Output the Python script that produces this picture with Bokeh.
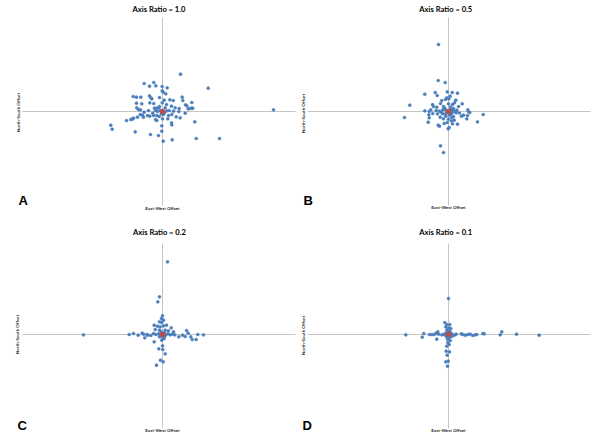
from bokeh.plotting import figure
from bokeh.models import Label, Range1d, FixedTicker
from bokeh.layouts import gridplot
from bokeh.embed import file_html
from bokeh.resources import INLINE

# ---------------- data ----------------
panel_titles = ["Axis Ratio = 1.0", "Axis Ratio = 0.5", "Axis Ratio = 0.2", "Axis Ratio = 0.1"]
panel_letters = ["A", "B", "C", "D"]
x_axis_title = "East-West Offset"
y_axis_title = "North-South Offset"

# offsets (east, north) of each shot
ratio_10_points = [
    (18.0, 37.3), (45.7, 23.3), (111.0, 1.7), (-18.3, 28.0), (-8.7, 29.0), (-6.7, 25.7), (-13.0, 25.3),
    (-0.3, 25.0), (-0.3, 20.7), (0.7, 19.3), (3.3, 17.7), (4.7, 23.7), (-29.3, 15.0), (-26.0, 14.3),
    (-21.7, 14.3), (-13.0, 15.7), (-11.7, 13.7), (-10.7, 12.7), (-3.0, 14.0), (1.7, 11.3), (7.3, 11.7),
    (10.7, 11.0), (19.7, 14.3), (20.3, 11.0), (29.3, 9.0), (23.0, 6.7), (24.3, 5.7), (25.7, 2.7),
    (27.0, 3.0), (29.0, 3.3), (30.3, 3.3), (-26.0, 8.3), (-20.7, 7.7), (-12.7, 8.7), (-8.7, 8.0),
    (-0.3, 8.7), (4.0, 7.0), (9.0, 5.3), (12.7, 3.7), (16.7, 3.0), (-25.7, 3.7), (-24.0, 2.0),
    (-22.0, 1.7), (-18.3, -0.7), (-14.0, 1.0), (-8.0, 3.3), (-5.7, 3.3), (-3.7, 3.7), (-7.0, 1.0),
    (-5.0, 0.0), (-2.3, 1.0), (4.3, 0.7), (6.7, 1.0), (11.0, 0.3), (16.3, 0.0), (22.7, -1.7),
    (-22.3, -3.0), (-20.0, -3.7), (-15.0, -4.0), (-12.7, -4.7), (-9.0, -4.0), (-5.7, -4.0), (-3.3, -5.0),
    (1.0, -3.0), (6.0, -4.0), (9.3, -3.0), (13.7, -5.3), (17.7, -6.3), (-36.0, -9.0), (-31.7, -8.0),
    (-30.3, -7.7), (-29.0, -6.7), (-25.0, -5.7), (-19.0, -5.7), (-7.0, -8.0), (-5.7, -9.0), (0.0, -7.3),
    (5.3, -7.3), (9.0, -11.3), (9.3, -13.3), (-0.7, -14.3), (32.3, -10.3), (-51.7, -13.7), (-50.3, -17.7),
    (-27.3, -20.3), (-12.0, -23.0), (-4.0, -24.0), (-0.7, -19.7), (9.7, -28.3), (33.7, -27.0),
    (57.0, -27.0), (0.7, -29.7), (-3.0, 5.0), (2.7, 3.7), (-1.3, -2.3), (2.0, -1.0), (-9.7, -1.7),
]
ratio_05_points = [
    (-10.0, 67.0), (-10.3, 31.0), (-3.3, 29.0), (-23.7, 17.3), (-13.3, 19.0), (-11.3, 16.0), (-1.3, 19.7),
    (3.7, 19.0), (9.0, 18.3), (1.7, 15.3), (-1.7, 13.7), (-6.7, 11.0), (-3.0, 12.0), (0.3, 12.7),
    (7.3, 11.3), (13.7, 7.7), (-38.7, 6.3), (-16.0, 7.0), (-15.0, 5.0), (-11.7, 4.3), (-5.0, 5.0),
    (0.0, 7.7), (4.0, 7.0), (6.0, 8.7), (10.0, 5.0), (-23.7, 0.7), (-19.3, 0.0), (-17.7, 1.7),
    (-12.3, 1.0), (-9.0, 0.3), (-5.7, 1.7), (-3.0, 2.0), (2.7, 2.7), (4.3, 1.3), (6.0, 0.0), (8.3, 1.3),
    (19.3, 1.7), (20.0, 0.0), (21.3, -1.0), (34.7, -3.0), (-44.0, -6.0), (-19.7, -3.3), (-15.7, -2.0),
    (-11.0, -2.3), (-5.7, -2.3), (-2.7, -4.7), (2.3, -3.0), (5.0, -5.0), (7.7, -1.3), (13.0, -4.7),
    (15.0, -3.7), (19.0, -4.0), (-19.3, -6.3), (-20.3, -10.7), (-8.3, -5.7), (-5.0, -7.3), (0.0, -7.7),
    (3.3, -6.3), (5.7, -8.7), (-10.3, -13.7), (-9.0, -14.7), (-4.3, -12.0), (-1.3, -11.0), (4.0, -12.3),
    (9.0, -12.7), (18.3, -7.3), (29.0, -10.3), (-0.3, -17.3), (0.7, -16.0), (-8.0, -34.3), (-5.0, -41.0),
    (-1.7, -1.0), (1.3, 0.7), (3.3, -1.7), (-2.7, -2.3), (1.0, -3.7), (-7.0, -1.0), (-4.0, 3.5),
    (2.0, 4.5), (5.0, 3.0), (-8.0, 8.0), (3.0, -9.5), (11.0, -1.5),
]
ratio_02_points = [
    (5.0, 72.7), (-3.0, 37.7), (-4.7, 32.7), (0.0, 18.7), (-1.0, 16.0), (-3.0, 12.7), (-0.7, 12.0),
    (1.0, 14.3), (-8.3, 9.3), (-5.0, 8.3), (-2.3, 7.7), (1.0, 8.7), (4.0, 9.3), (8.7, 6.7), (-7.3, 5.0),
    (-3.0, 4.3), (2.7, 4.3), (6.0, 3.7), (11.0, 2.7), (24.0, 4.0), (25.7, 1.3), (-79.0, -0.3),
    (-33.3, 0.0), (-29.0, 1.0), (-24.3, -0.7), (-20.3, 1.3), (-19.0, 0.3), (-15.7, 0.0), (-14.7, -0.7),
    (-11.7, -1.0), (-9.0, 1.0), (-6.7, 0.0), (-4.0, 0.7), (3.3, 0.0), (5.3, 0.7), (7.7, -0.3),
    (10.0, 0.3), (12.3, -0.3), (16.3, -2.3), (20.0, -0.7), (22.7, -2.0), (28.3, -2.3), (29.7, -5.0),
    (33.7, -5.0), (35.3, 0.0), (41.0, -0.3), (-17.7, -3.3), (-8.3, -7.3), (-0.7, -5.7), (1.7, -4.0),
    (-3.0, -2.3), (-3.7, -14.3), (0.0, -11.3), (0.3, -15.0), (2.7, -19.3), (-2.0, -25.7), (0.7, -27.3),
    (-6.0, -30.7), (-1.3, 2.7), (1.7, 1.7), (-2.3, -1.3), (2.3, -1.7), (0.3, -3.0),
]
ratio_01_points = [
    (0.0, 36.0), (-3.7, 12.0), (-1.7, 10.0), (1.3, 10.0), (-2.7, 7.7), (0.3, 6.7), (2.3, 6.0),
    (-1.7, 4.7), (1.3, 3.3), (-42.7, -0.3), (-26.3, -2.7), (-24.7, 1.0), (-19.0, 0.0), (-16.7, 0.0),
    (-14.3, 0.0), (-12.3, 1.3), (-10.7, 2.7), (-10.0, 0.3), (-11.7, -4.7), (-6.7, -0.3), (-4.3, 0.3),
    (-2.7, -1.0), (3.3, 0.3), (5.7, -0.7), (7.7, 0.3), (12.7, 0.7), (14.3, 0.0), (16.7, -0.7),
    (19.3, 0.0), (21.7, 0.3), (24.3, -1.0), (26.7, -0.3), (28.3, 0.0), (34.3, 1.0), (35.7, 0.7),
    (51.7, -0.3), (53.3, 2.7), (68.0, 0.3), (90.7, -0.7), (-1.7, -2.3), (0.7, -3.3), (-1.0, -4.7),
    (1.7, -6.0), (-0.7, -8.0), (0.7, -10.0), (-1.7, -11.7), (-2.3, -16.7), (1.0, -17.3), (-1.3, -20.7),
    (-2.7, -27.3), (-0.3, -26.7), (-1.0, -31.7), (0.0, 2.7), (2.3, 1.3), (-2.3, 1.7), (3.3, -2.0),
]
target_point = (0.0, 0.0)

# ---------------- layout / style ----------------
BLUE = "#4a7ebb"
RED = "#be4b48"
AXIS_GREY = "#c4c4c4"

panel_cfg = [
    dict(w=300, h=218, xr=(-162, 138), yr=(-107, 111), xb=(-140, 133), yb=(-94, 94),
         title=(-3.5, 102.7), letter=(-144, -88.5), ns=(-144, -1), ew=(0, -96.5)),
    dict(w=292, h=218, xr=(-148, 144), yr=(-107, 111), xb=(-141, 142), yb=(-94, 94),
         title=(-2.7, 103), letter=(-145, -88.5), ns=(-145, -2), ew=(0, -96.3)),
    dict(w=300, h=218, xr=(-162, 138), yr=(-102, 116), xb=(-140, 133), yb=(-94, 91),
         title=(-3, 103), letter=(-145, -91), ns=(-145, 0), ew=(0, -95.7)),
    dict(w=292, h=218, xr=(-148, 144), yr=(-102, 116), xb=(-141, 142), yb=(-94, 91),
         title=(-2.7, 103), letter=(-146, -91), ns=(-145, -1), ew=(0, -95.7)),
]
all_points = [ratio_10_points, ratio_05_points, ratio_02_points, ratio_01_points]

figs = []
for title, letter, pts, cfg in zip(panel_titles, panel_letters, all_points, panel_cfg):
    p = figure(width=cfg["w"], height=cfg["h"], output_backend="svg", toolbar_location=None,
               x_range=Range1d(*cfg["xr"]), y_range=Range1d(*cfg["yr"]),
               min_border=0)
    p.outline_line_color = None
    p.grid.visible = False
    p.background_fill_color = "white"
    p.border_fill_color = "white"

    for ax, bnds in ((p.xaxis[0], cfg["xb"]), (p.yaxis[0], cfg["yb"])):
        ax.fixed_location = 0
        ax.bounds = bnds
        ax.ticker = FixedTicker(ticks=[])
        ax.major_tick_line_color = None
        ax.minor_tick_line_color = None
        ax.major_label_text_font_size = "0px"
        ax.axis_line_color = AXIS_GREY
        ax.axis_line_width = 1
        ax.level = "underlay"

    xs = [q[0] for q in pts]
    ys = [q[1] for q in pts]
    p.scatter(xs, ys, marker="circle", size=3.2, fill_color=BLUE, line_color=BLUE, line_width=0.3)
    p.scatter([target_point[0]], [target_point[1]], marker="circle", size=4.6,
              fill_color=RED, line_color=RED)

    p.add_layout(Label(x=cfg["title"][0], y=cfg["title"][1], text=title,
                       text_font="Lato", text_font_style="bold", text_font_size="7.6px",
                       text_align="center", text_baseline="middle", text_color="#000000"))
    p.add_layout(Label(x=cfg["letter"][0], y=cfg["letter"][1], text=letter,
                       text_font="Liberation Sans", text_font_style="bold", text_font_size="13px",
                       text_align="left", text_baseline="middle", text_color="#000000"))
    p.add_layout(Label(x=cfg["ew"][0], y=cfg["ew"][1], text=x_axis_title,
                       text_font="Lato", text_font_style="bold", text_font_size="4.5px",
                       text_align="center", text_baseline="middle", text_color="#222222"))
    p.add_layout(Label(x=cfg["ns"][0], y=cfg["ns"][1], text=y_axis_title, angle=1.5708,
                       text_font="Lato", text_font_style="bold", text_font_size="4.5px",
                       text_align="center", text_baseline="middle", text_color="#222222"))
    figs.append(p)

grid = gridplot([[figs[0], figs[1]], [figs[2], figs[3]]], toolbar_location=None)
grid.margin = (0, 0, 0, 0)

open("out.html", "w").write(file_html(grid, INLINE))
